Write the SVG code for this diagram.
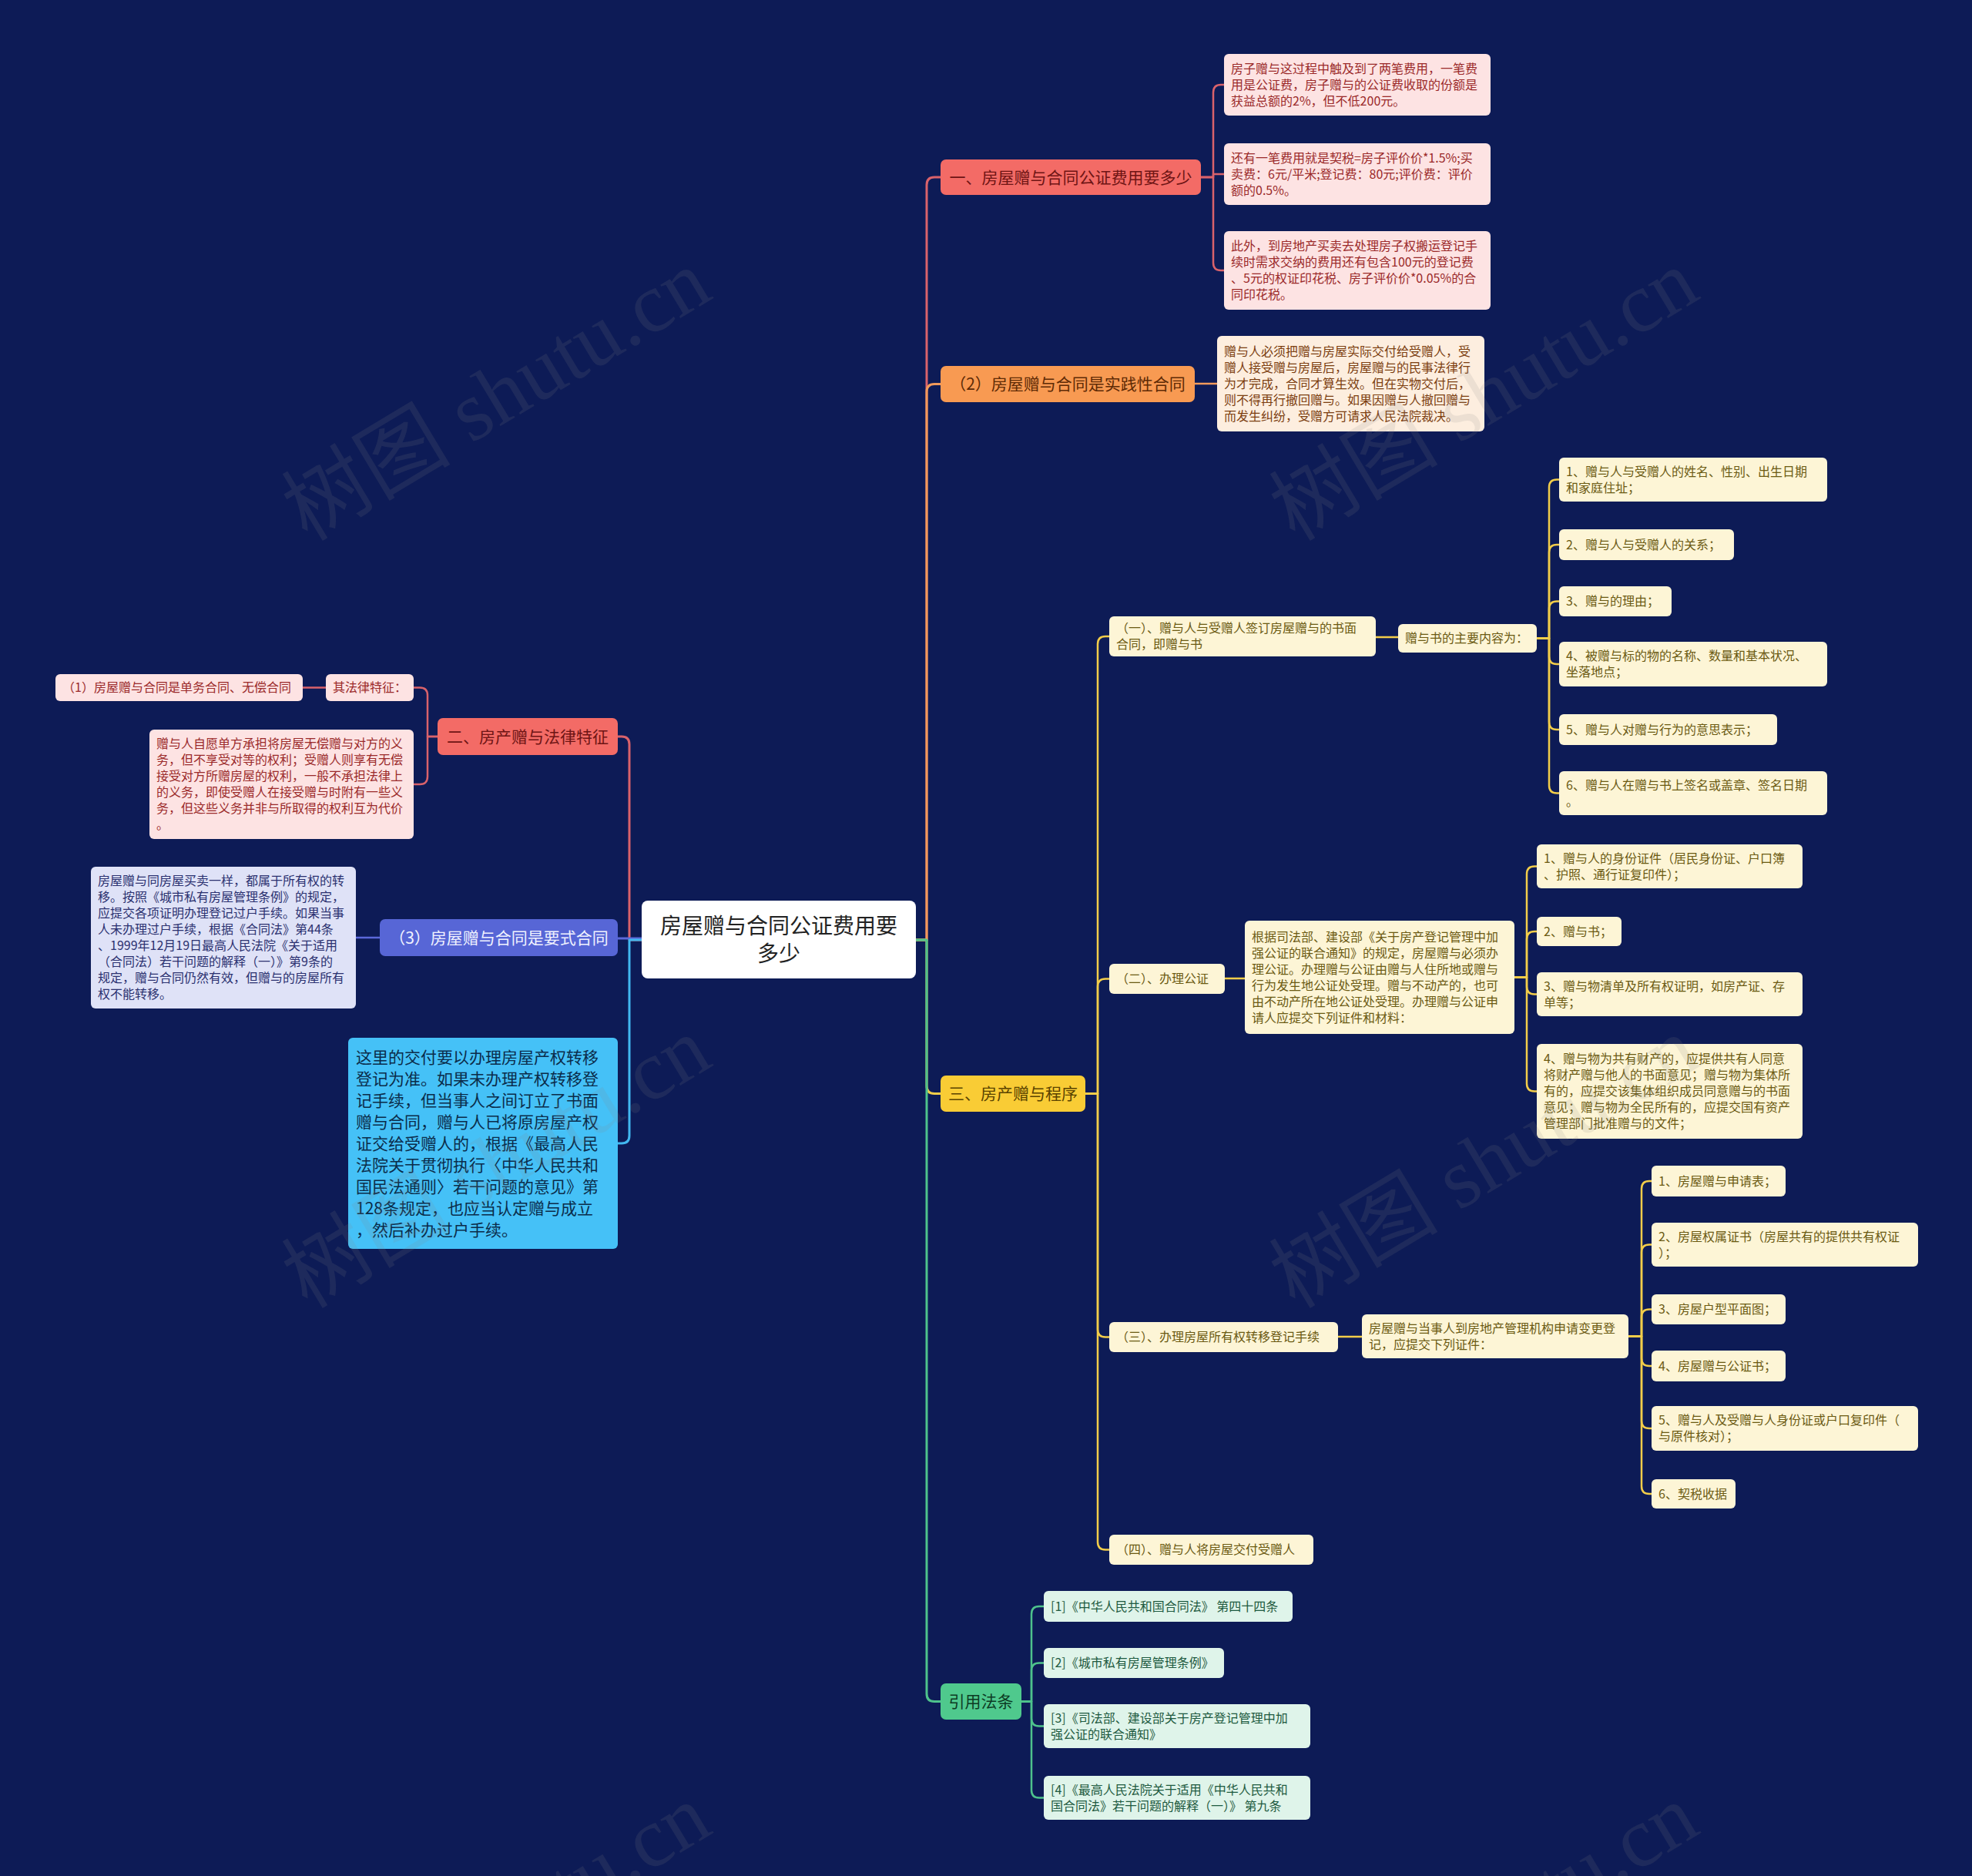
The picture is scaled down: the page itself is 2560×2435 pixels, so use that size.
<svg xmlns="http://www.w3.org/2000/svg" width="2560" height="2435" viewBox="0 0 2560 2435">
<style>
text{font-family:"Noto Sans CJK SC","Noto Sans",sans-serif;}
.c{fill:none;stroke-width:2.5;stroke-linecap:round;stroke-linejoin:round}
.c0{stroke-width:3}
.kred{stroke:#d9626b}.korg{stroke:#f19a5b}.kyel{stroke:#f2cd4a}.kgrn{stroke:#4ec28c}.kblu{stroke:#5b68d9}.ksky{stroke:#42b8f0}
.root rect{fill:#ffffff}
.root text{font-size:28px;fill:#222222;text-anchor:middle}
.l1 text{font-size:21px;text-anchor:middle}
.l1r rect{fill:#f36b66}.l1r text{fill:#6e1414}
.l1o rect{fill:#f89a52}.l1o text{fill:#5e2a05}
.l1y rect{fill:#f9cc35}.l1y text{fill:#5a4300}
.l1g rect{fill:#4fc98d}.l1g text{fill:#0d3b24}
.l1b rect{fill:#5766d6}.l1b text{fill:#f0f2ff}
.skyb rect{fill:#45c1f7}.skyb text{fill:#0b2c4a;font-size:21px}
.lf text{font-size:16px}
.pk rect{fill:#fde3e3}.pk text{fill:#9b2a2a}
.pc rect{fill:#fdeedf}.pc text{fill:#7c3e10}
.cr rect{fill:#fdf5d6}.cr text{fill:#6b5a12}
.mt rect{fill:#dff4ea}.mt text{fill:#1e5a40}
.lv rect{fill:#dfe2f7}.lv text{fill:#2b3170}
.wm text{font-family:"Liberation Serif","Noto Sans CJK SC",serif;font-size:110px;fill:#8a8a8a;fill-opacity:0.14;text-anchor:middle}
</style>
<rect width="2560" height="2435" fill="#0d1b56"/>

<g id="connectors">
  <path class="c c0 kred" d="M1189,1220 H1203 V240 Q1203,230 1213,230 H1221"/>
  <path class="c c0 korg" d="M1189,1220 H1203 V508.5 Q1203,498.5 1213,498.5 H1221"/>
  <path class="c c0 kyel" d="M1189,1220 H1203 V1409.5 Q1203,1419.5 1213,1419.5 H1221"/>
  <path class="c c0 kgrn" d="M1189,1220 H1203 V2198.5 Q1203,2208.5 1213,2208.5 H1221"/>
  <path class="c c0 kred" d="M833,1220 H817 V966 Q817,956 807,956 H802"/>
  <path class="c c0 kblu" d="M833,1218 H802"/>
  <path class="c c0 ksky" d="M833,1220 H817 V1474 Q817,1484 807,1484 H802"/>
  <path class="c kred" d="M1559,230 H1575 V120 Q1575,110 1585,110 H1589"/>
  <path class="c kred" d="M1559,230 H1575 V226 H1589"/>
  <path class="c kred" d="M1559,230 H1575 V341 Q1575,351 1585,351 H1589"/>
  <path class="c korg" d="M1551,498 H1580"/>
  <path class="c kyel" d="M1409,1419.5 H1425 V836 Q1425,826 1435,826 H1440"/>
  <path class="c kyel" d="M1409,1419.5 H1425 V1280.5 Q1425,1270.5 1435,1270.5 H1440"/>
  <path class="c kyel" d="M1409,1419.5 H1425 V1725.5 Q1425,1735.5 1435,1735.5 H1440"/>
  <path class="c kyel" d="M1409,1419.5 H1425 V2001.5 Q1425,2011.5 1435,2011.5 H1440"/>
  <path class="c kyel" d="M1786,827 H1815"/>
  <path class="c kyel" d="M1995,828.5 H2011 V632.5 Q2011,622.5 2021,622.5 H2024"/>
  <path class="c kyel" d="M1995,828.5 H2011 V717 Q2011,707 2021,707 H2024"/>
  <path class="c kyel" d="M1995,828.5 H2011 V790.5 Q2011,780.5 2021,780.5 H2024"/>
  <path class="c kyel" d="M1995,828.5 H2011 V852 Q2011,862 2021,862 H2024"/>
  <path class="c kyel" d="M1995,828.5 H2011 V937 Q2011,947 2021,947 H2024"/>
  <path class="c kyel" d="M1995,828.5 H2011 V1019.5 Q2011,1029.5 2021,1029.5 H2024"/>
  <path class="c kyel" d="M1590,1270 H1616"/>
  <path class="c kyel" d="M1966,1268.5 H1982 V1134.5 Q1982,1124.5 1992,1124.5 H1995"/>
  <path class="c kyel" d="M1966,1268.5 H1982 V1219 Q1982,1209 1992,1209 H1995"/>
  <path class="c kyel" d="M1966,1268.5 H1982 V1280.5 Q1982,1290.5 1992,1290.5 H1995"/>
  <path class="c kyel" d="M1966,1268.5 H1982 V1406.5 Q1982,1416.5 1992,1416.5 H1995"/>
  <path class="c kyel" d="M1737,1735 H1768"/>
  <path class="c kyel" d="M2114,1734.5 H2131 V1543 Q2131,1533 2141,1533 H2144"/>
  <path class="c kyel" d="M2114,1734.5 H2131 V1625.5 Q2131,1615.5 2141,1615.5 H2144"/>
  <path class="c kyel" d="M2114,1734.5 H2131 V1709.5 Q2131,1699.5 2141,1699.5 H2144"/>
  <path class="c kyel" d="M2114,1734.5 H2131 V1763 Q2131,1773 2141,1773 H2144"/>
  <path class="c kyel" d="M2114,1734.5 H2131 V1844 Q2131,1854 2141,1854 H2144"/>
  <path class="c kyel" d="M2114,1734.5 H2131 V1929 Q2131,1939 2141,1939 H2144"/>
  <path class="c kgrn" d="M1326,2208.5 H1339 V2095 Q1339,2085 1349,2085 H1355"/>
  <path class="c kgrn" d="M1326,2208.5 H1339 V2168.5 Q1339,2158.5 1349,2158.5 H1355"/>
  <path class="c kgrn" d="M1326,2208.5 H1339 V2230.5 Q1339,2240.5 1349,2240.5 H1355"/>
  <path class="c kgrn" d="M1326,2208.5 H1339 V2323.5 Q1339,2333.5 1349,2333.5 H1355"/>
  <path class="c kred" d="M568,956 H555 V902.5 Q555,892.5 545,892.5 H537"/>
  <path class="c kred" d="M568,956 H555 V1008 Q555,1018 545,1018 H537"/>
  <path class="c kred" d="M423,892.5 H393"/>
  <path class="c kblu" d="M493,1217 H462"/>
</g>

<g id="root" class="root">
  <rect x="833" y="1169" width="356" height="101" rx="8"/>
  <text x="1011" y="1211.6">房屋赠与合同公证费用要</text>
  <text x="1011" y="1247.6">多少</text>
</g>

<g id="n-yi" class="l1 l1r"><rect x="1221" y="207" width="338" height="46" rx="7"/><text x="1390" y="237.5">一、房屋赠与合同公证费用要多少</text></g>
<g id="n-2" class="l1 l1o"><rect x="1221" y="475" width="330" height="47" rx="7"/><text x="1386" y="506">（2）房屋赠与合同是实践性合同</text></g>
<g id="n-san" class="l1 l1y"><rect x="1221" y="1396" width="188" height="47" rx="7"/><text x="1315" y="1427">三、房产赠与程序</text></g>
<g id="n-yy" class="l1 l1g"><rect x="1221" y="2185" width="105" height="47" rx="7"/><text x="1273.5" y="2216">引用法条</text></g>
<g id="n-er" class="l1 l1r"><rect x="568" y="932" width="234" height="48" rx="7"/><text x="685" y="963.5">二、房产赠与法律特征</text></g>
<g id="n-3" class="l1 l1b"><rect x="493" y="1193" width="309" height="48" rx="7"/><text x="647.5" y="1224.5">（3）房屋赠与合同是要式合同</text></g>
<g id="n-sky" class="skyb"><rect x="452" y="1347" width="350" height="274" rx="6"/>
  <text x="462" y="1379.6">这里的交付要以办理房屋产权转移</text>
  <text x="462" y="1407.6">登记为准。如果未办理产权转移登</text>
  <text x="462" y="1435.6">记手续，但当事人之间订立了书面</text>
  <text x="462" y="1463.6">赠与合同，赠与人已将原房屋产权</text>
  <text x="462" y="1491.6">证交给受赠人的，根据《最高人民</text>
  <text x="462" y="1519.6">法院关于贯彻执行〈中华人民共和</text>
  <text x="462" y="1547.6">国民法通则〉若干问题的意见》第</text>
  <text x="462" y="1575.6">128条规定，也应当认定赠与成立</text>
  <text x="462" y="1603.6">，然后补办过户手续。</text>
</g>

<g id="n-yi-1" class="lf pk"><rect x="1589" y="70" width="346" height="80" rx="6"/>
  <text x="1598" y="94.8">房子赠与这过程中触及到了两笔费用，一笔费</text>
  <text x="1598" y="115.8">用是公证费，房子赠与的公证费收取的份额是</text>
  <text x="1598" y="136.8">获益总额的2%，但不低200元。</text>
</g>
<g id="n-yi-2" class="lf pk"><rect x="1589" y="186" width="346" height="80" rx="6"/>
  <text x="1598" y="210.8">还有一笔费用就是契税=房子评价价*1.5%;买</text>
  <text x="1598" y="231.8">卖费：6元/平米;登记费：80元;评价费：评价</text>
  <text x="1598" y="252.8">额的0.5%。</text>
</g>
<g id="n-yi-3" class="lf pk"><rect x="1589" y="300" width="346" height="102" rx="6"/>
  <text x="1598" y="325.3">此外，到房地产买卖去处理房子权搬运登记手</text>
  <text x="1598" y="346.3">续时需求交纳的费用还有包含100元的登记费</text>
  <text x="1598" y="367.3">、5元的权证印花税、房子评价价*0.05%的合</text>
  <text x="1598" y="388.3">同印花税。</text>
</g>

<g id="n-2-1" class="lf pc"><rect x="1580" y="436" width="347" height="124" rx="6"/>
  <text x="1589" y="461.8">赠与人必须把赠与房屋实际交付给受赠人，受</text>
  <text x="1589" y="482.8">赠人接受赠与房屋后，房屋赠与的民事法律行</text>
  <text x="1589" y="503.8">为才完成，合同才算生效。但在实物交付后，</text>
  <text x="1589" y="524.8">则不得再行撤回赠与。如果因赠与人撤回赠与</text>
  <text x="1589" y="545.8">而发生纠纷，受赠方可请求人民法院裁决。</text>
</g>

<g id="n-s1" class="lf cr"><rect x="1440" y="800" width="346" height="52" rx="6"/>
  <text x="1449" y="821.3">（一）、赠与人与受赠人签订房屋赠与的书面</text>
  <text x="1449" y="842.3">合同，即赠与书</text>
</g>
<g id="n-s1-a" class="lf cr"><rect x="1815" y="810" width="180" height="37" rx="6"/><text x="1824" y="834.3">赠与书的主要内容为：</text></g>
<g id="n-s1-1" class="lf cr"><rect x="2024" y="594" width="348" height="57" rx="6"/>
  <text x="2033" y="617.8">1、赠与人与受赠人的姓名、性别、出生日期</text>
  <text x="2033" y="638.8">和家庭住址；</text>
</g>
<g id="n-s1-2" class="lf cr"><rect x="2024" y="687" width="227" height="40" rx="6"/><text x="2033" y="712.8">2、赠与人与受赠人的关系；</text></g>
<g id="n-s1-3" class="lf cr"><rect x="2024" y="761" width="146" height="39" rx="6"/><text x="2033" y="786.3">3、赠与的理由；</text></g>
<g id="n-s1-4" class="lf cr"><rect x="2024" y="833" width="348" height="58" rx="6"/>
  <text x="2033" y="857.3">4、被赠与标的物的名称、数量和基本状况、</text>
  <text x="2033" y="878.3">坐落地点；</text>
</g>
<g id="n-s1-5" class="lf cr"><rect x="2024" y="927" width="283" height="40" rx="6"/><text x="2033" y="952.8">5、赠与人对赠与行为的意思表示；</text></g>
<g id="n-s1-6" class="lf cr"><rect x="2024" y="1001" width="348" height="57" rx="6"/>
  <text x="2033" y="1024.8">6、赠与人在赠与书上签名或盖章、签名日期</text>
  <text x="2033" y="1045.8">。</text>
</g>

<g id="n-s2" class="lf cr"><rect x="1440" y="1251" width="150" height="39" rx="6"/><text x="1449" y="1276.3">（二）、办理公证</text></g>
<g id="n-s2-a" class="lf cr"><rect x="1616" y="1195" width="350" height="147" rx="6"/>
  <text x="1625" y="1221.8">根据司法部、建设部《关于房产登记管理中加</text>
  <text x="1625" y="1242.8">强公证的联合通知》的规定，房屋赠与必须办</text>
  <text x="1625" y="1263.8">理公证。办理赠与公证由赠与人住所地或赠与</text>
  <text x="1625" y="1284.8">行为发生地公证处受理。赠与不动产的，也可</text>
  <text x="1625" y="1305.8">由不动产所在地公证处受理。办理赠与公证申</text>
  <text x="1625" y="1326.8">请人应提交下列证件和材料：</text>
</g>
<g id="n-s2-1" class="lf cr"><rect x="1995" y="1096" width="345" height="57" rx="6"/>
  <text x="2004" y="1119.8">1、赠与人的身份证件（居民身份证、户口簿</text>
  <text x="2004" y="1140.8">、护照、通行证复印件）；</text>
</g>
<g id="n-s2-2" class="lf cr"><rect x="1995" y="1190" width="110" height="38" rx="6"/><text x="2004" y="1214.8">2、赠与书；</text></g>
<g id="n-s2-3" class="lf cr"><rect x="1995" y="1262" width="345" height="57" rx="6"/>
  <text x="2004" y="1285.8">3、赠与物清单及所有权证明，如房产证、存</text>
  <text x="2004" y="1306.8">单等；</text>
</g>
<g id="n-s2-4" class="lf cr"><rect x="1995" y="1355" width="345" height="123" rx="6"/>
  <text x="2004" y="1380.3">4、赠与物为共有财产的，应提供共有人同意</text>
  <text x="2004" y="1401.3">将财产赠与他人的书面意见；赠与物为集体所</text>
  <text x="2004" y="1422.3">有的，应提交该集体组织成员同意赠与的书面</text>
  <text x="2004" y="1443.3">意见；赠与物为全民所有的，应提交国有资产</text>
  <text x="2004" y="1464.3">管理部门批准赠与的文件；</text>
</g>

<g id="n-s3" class="lf cr"><rect x="1440" y="1716" width="297" height="39" rx="6"/><text x="1449" y="1741.3">（三）、办理房屋所有权转移登记手续</text></g>
<g id="n-s3-a" class="lf cr"><rect x="1768" y="1706" width="346" height="57" rx="6"/>
  <text x="1777" y="1729.8">房屋赠与当事人到房地产管理机构申请变更登</text>
  <text x="1777" y="1750.8">记，应提交下列证件：</text>
</g>
<g id="n-s3-1" class="lf cr"><rect x="2144" y="1513" width="174" height="40" rx="6"/><text x="2153" y="1538.8">1、房屋赠与申请表；</text></g>
<g id="n-s3-2" class="lf cr"><rect x="2144" y="1587" width="346" height="57" rx="6"/>
  <text x="2153" y="1610.8">2、房屋权属证书（房屋共有的提供共有权证</text>
  <text x="2153" y="1631.8">）；</text>
</g>
<g id="n-s3-3" class="lf cr"><rect x="2144" y="1680" width="174" height="39" rx="6"/><text x="2153" y="1705.3">3、房屋户型平面图；</text></g>
<g id="n-s3-4" class="lf cr"><rect x="2144" y="1753" width="174" height="40" rx="6"/><text x="2153" y="1778.8">4、房屋赠与公证书；</text></g>
<g id="n-s3-5" class="lf cr"><rect x="2144" y="1825" width="346" height="58" rx="6"/>
  <text x="2153" y="1849.3">5、赠与人及受赠与人身份证或户口复印件（</text>
  <text x="2153" y="1870.3">与原件核对）；</text>
</g>
<g id="n-s3-6" class="lf cr"><rect x="2144" y="1920" width="109" height="38" rx="6"/><text x="2153" y="1944.8">6、契税收据</text></g>

<g id="n-s4" class="lf cr"><rect x="1440" y="1992" width="265" height="39" rx="6"/><text x="1449" y="2017.3">（四）、赠与人将房屋交付受赠人</text></g>

<g id="n-yy-1" class="lf mt"><rect x="1355" y="2065" width="323" height="40" rx="6"/><text x="1364" y="2090.8">[1]《中华人民共和国合同法》 第四十四条</text></g>
<g id="n-yy-2" class="lf mt"><rect x="1355" y="2139" width="234" height="39" rx="6"/><text x="1364" y="2164.3">[2]《城市私有房屋管理条例》</text></g>
<g id="n-yy-3" class="lf mt"><rect x="1355" y="2212" width="346" height="57" rx="6"/>
  <text x="1364" y="2235.8">[3]《司法部、建设部关于房产登记管理中加</text>
  <text x="1364" y="2256.8">强公证的联合通知》</text>
</g>
<g id="n-yy-4" class="lf mt"><rect x="1355" y="2305" width="346" height="57" rx="6"/>
  <text x="1364" y="2328.8">[4]《最高人民法院关于适用《中华人民共和</text>
  <text x="1364" y="2349.8">国合同法》若干问题的解释（一）》 第九条</text>
</g>

<g id="n-er-a" class="lf pk"><rect x="423" y="875" width="114" height="35" rx="6"/><text x="432" y="898.3">其法律特征：</text></g>
<g id="n-er-a1" class="lf pk"><rect x="72" y="875" width="321" height="35" rx="6"/><text x="81" y="898.3">（1）房屋赠与合同是单务合同、无偿合同</text></g>
<g id="n-er-b" class="lf pk"><rect x="194" y="947" width="343" height="142" rx="6"/>
  <text x="203" y="971.3">赠与人自愿单方承担将房屋无偿赠与对方的义</text>
  <text x="203" y="992.3">务，但不享受对等的权利；受赠人则享有无偿</text>
  <text x="203" y="1013.3">接受对方所赠房屋的权利，一般不承担法律上</text>
  <text x="203" y="1034.3">的义务，即使受赠人在接受赠与时附有一些义</text>
  <text x="203" y="1055.3">务，但这些义务并非与所取得的权利互为代价</text>
  <text x="203" y="1076.3">。</text>
</g>

<g id="n-3-1" class="lf lv"><rect x="118" y="1125" width="344" height="184" rx="6"/>
  <text x="127" y="1149.3">房屋赠与同房屋买卖一样，都属于所有权的转</text>
  <text x="127" y="1170.3">移。按照《城市私有房屋管理条例》的规定，</text>
  <text x="127" y="1191.3">应提交各项证明办理登记过户手续。如果当事</text>
  <text x="127" y="1212.3">人未办理过户手续，根据《合同法》第44条</text>
  <text x="127" y="1233.3">、1999年12月19日最高人民法院《关于适用</text>
  <text x="127" y="1254.3">（合同法）若干问题的解释（一）》第9条的</text>
  <text x="127" y="1275.3">规定，赠与合同仍然有效，但赠与的房屋所有</text>
  <text x="127" y="1296.3">权不能转移。</text>
</g>

<g id="watermarks" class="wm">
  <text x="645" y="550" transform="rotate(-31 645 514)">树图 shutu.cn</text>
  <text x="1927" y="550" transform="rotate(-31 1927 514)">树图 shutu.cn</text>
  <text x="645" y="1546" transform="rotate(-31 645 1510)">树图 shutu.cn</text>
  <text x="1927" y="1546" transform="rotate(-31 1927 1510)">树图 shutu.cn</text>
  <text x="645" y="2542" transform="rotate(-31 645 2506)">树图 shutu.cn</text>
  <text x="1927" y="2542" transform="rotate(-31 1927 2506)">树图 shutu.cn</text>
</g>
</svg>
